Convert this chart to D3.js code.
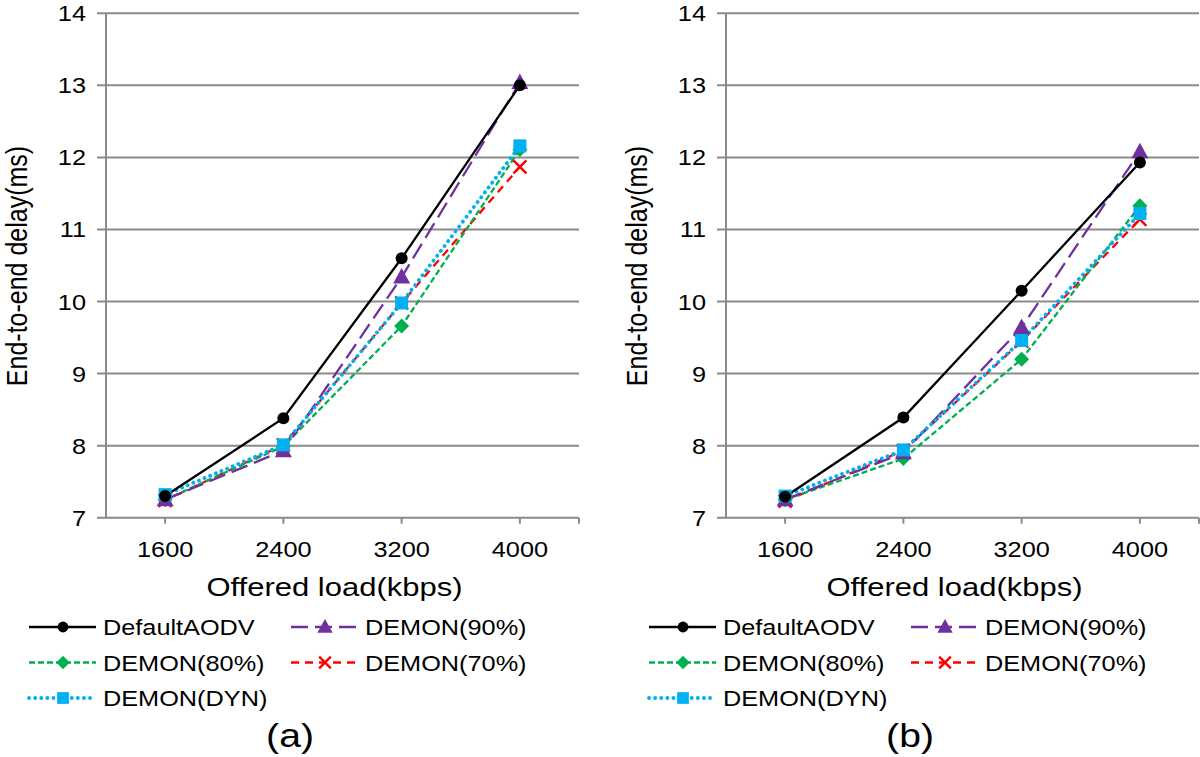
<!DOCTYPE html>
<html><head><meta charset="utf-8">
<script src="https://cdn.jsdelivr.net/npm/d3@7"></script>
<style>body{margin:0;background:#fff}svg{display:block}text{font-family:"Liberation Sans",Arial,sans-serif;fill:#000}</style>
</head><body><svg id="c" width="1200" height="757"></svg>
<script>
const loads = ["1600","2400","3200","4000"];
const yTicks = [7,8,9,10,11,12,13,14];
const seriesNames = ["DefaultAODV","DEMON(90%)","DEMON(80%)","DEMON(70%)","DEMON(DYN)"];
// panel (a)
const aDefault = [7.30, 8.38, 10.60, 13.00];
const aD90     = [7.25, 7.93, 10.34, 13.04];
const aD80     = [7.25, 7.99, 9.66, 12.11];
const aD70     = [7.24, 8.01, 9.98, 11.87];
const aDyn     = [7.32, 8.01, 9.98, 12.16];
// panel (b)
const bDefault = [7.29, 8.39, 10.15, 11.93];
const bD90     = [7.25, 7.90, 9.64, 12.08];
const bD80     = [7.25, 7.82, 9.20, 11.33];
const bD70     = [7.23, 7.93, 9.45, 11.14];
const bDyn     = [7.30, 7.94, 9.46, 11.22];

const styles = {
  "DefaultAODV": {color:"#000000", dash:null, width:2.3, cap:"butt", marker:"circle"},
  "DEMON(90%)":  {color:"#7030A0", dash:"17,7", width:2.3, cap:"butt", marker:"triangle"},
  "DEMON(80%)":  {color:"#00B050", dash:"6,3", width:2.3, cap:"butt", marker:"diamond"},
  "DEMON(70%)":  {color:"#FF0000", dash:"8,6", width:2.3, cap:"butt", marker:"x"},
  "DEMON(DYN)":  {color:"#00B0F0", dash:"0.1,6", width:3.8, cap:"round", marker:"square"}
};
const SX = 1.15; // horizontal stretch of the source picture's text
const svg = d3.select("#c");

function stext(g, x, y, str, size, anchor, sx){
  return g.append("text").attr("transform",`translate(${x},${y}) scale(${sx||SX},1)`)
    .attr("text-anchor",anchor).style("font-size",size+"px").text(str);
}
function marker(g, type, x, y, color, s){
  if(type==="circle") g.append("circle").attr("cx",x).attr("cy",y).attr("r",6*s).attr("fill",color);
  else if(type==="square") g.append("rect").attr("x",x-6.5*s).attr("y",y-6.5*s).attr("width",13*s).attr("height",13*s).attr("fill",color);
  else if(type==="diamond") g.append("path").attr("d",`M${x},${y-7.5*s}L${x+7.5*s},${y}L${x},${y+7.5*s}L${x-7.5*s},${y}Z`).attr("fill",color);
  else if(type==="triangle") g.append("path").attr("d",`M${x},${y-9*s}L${x+8.5*s},${y+6.5*s}L${x-8.5*s},${y+6.5*s}Z`).attr("fill",color);
  else if(type==="x") g.append("path").attr("d",`M${x-6.5*s},${y-6.5*s}L${x+6.5*s},${y+6.5*s}M${x+6.5*s},${y-6.5*s}L${x-6.5*s},${y+6.5*s}`).attr("stroke",color).attr("stroke-width",2.4).attr("fill","none");
}

function panel(off, data, label){
  const g = svg.append("g");
  const x0 = 106+off, x1 = 579+off, yT = 13.3, yB = 517.7;
  const x = d3.scalePoint().domain(loads).range([x0,x1]).padding(0.5);
  const y = d3.scaleLinear().domain([7,14]).range([yB,yT]);
  const grid = "#8a8a8a";
  yTicks.forEach(t=>{
    g.append("line").attr("x1",x0-9).attr("x2",x1).attr("y1",y(t)).attr("y2",y(t)).attr("stroke",grid).attr("stroke-width",2);
    stext(g, x0-20, y(t)+8, String(t), 22, "end");
  });
  g.append("line").attr("x1",x0).attr("x2",x0).attr("y1",yT).attr("y2",yB).attr("stroke",grid).attr("stroke-width",2);
  loads.forEach(c=>{
    g.append("line").attr("x1",x(c)).attr("x2",x(c)).attr("y1",yB).attr("y2",yB+6).attr("stroke",grid).attr("stroke-width",2);
    stext(g, x(c), 557, c, 22, "middle");
  });
  g.append("line").attr("x1",x1).attr("x2",x1).attr("y1",yB).attr("y2",yB+6).attr("stroke",grid).attr("stroke-width",2);
  stext(g, (x0+x1)/2-8, 596, "Offered load(kbps)", 25, "middle", 1.24);
  g.append("text").attr("transform",`translate(${27+off},${266}) rotate(-90) scale(1,${SX})`)
    .attr("text-anchor","middle").style("font-size","25px").text("End-to-end delay(ms)");
  const order = ["DEMON(70%)","DEMON(80%)","DEMON(90%)","DEMON(DYN)","DefaultAODV"];
  const line = d3.line().x((d,i)=>x(loads[i])).y(d=>y(d));
  order.forEach(n=>{
    const st = styles[n], vals = data[n];
    g.append("path").attr("d",line(vals)).attr("fill","none").attr("stroke",st.color)
      .attr("stroke-width",st.width).attr("stroke-dasharray",st.dash).attr("stroke-linecap",st.cap);
  });
  order.forEach(n=>{
    const st = styles[n], vals = data[n];
    vals.forEach((v,i)=>marker(g, st.marker, x(loads[i]), y(v), st.color, 1));
  });
  const cols = [[0,0],[1,0],[0,1],[1,1],[0,2]];
  seriesNames.forEach((n,k)=>{
    const st = styles[n];
    const lx = off + 29 + cols[k][0]*262, ly = 627 + cols[k][1]*35.5;
    g.append("line").attr("x1",lx).attr("x2",lx+67).attr("y1",ly).attr("y2",ly).attr("stroke",st.color)
      .attr("stroke-width",st.width).attr("stroke-dasharray",st.dash).attr("stroke-linecap",st.cap);
    marker(g, st.marker, lx+34, ly, st.color, 0.9);
    stext(g, lx+74, ly+8, n, 22, "start");
  });
  stext(g, off+290, 747, label, 34, "middle");
}

panel(0, {"DefaultAODV":aDefault,"DEMON(90%)":aD90,"DEMON(80%)":aD80,"DEMON(70%)":aD70,"DEMON(DYN)":aDyn}, "(a)");
panel(620, {"DefaultAODV":bDefault,"DEMON(90%)":bD90,"DEMON(80%)":bD80,"DEMON(70%)":bD70,"DEMON(DYN)":bDyn}, "(b)");
</script></body></html>
